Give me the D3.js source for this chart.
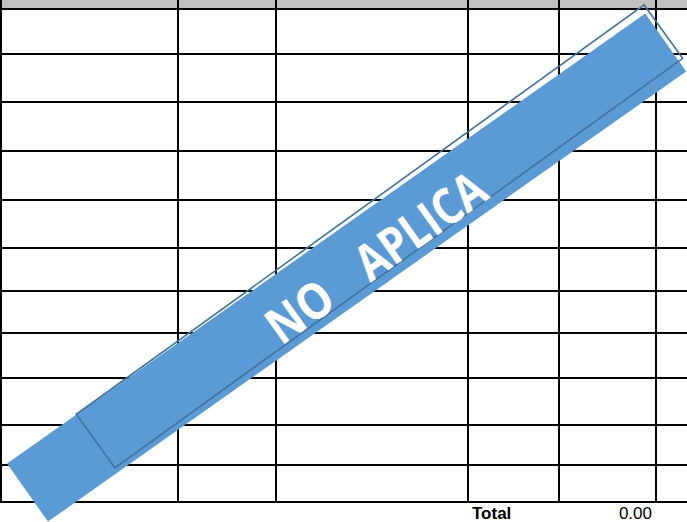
<!DOCTYPE html>
<html>
<head>
<meta charset="utf-8">
<script src="https://cdn.jsdelivr.net/npm/d3@7"></script>
<style>
  html, body { margin: 0; padding: 0; background: #fff; }
  svg { display: block; }
</style>
</head>
<body>
<div id="chart"></div>
<script>
// ---- data ----
const columns = ["", "", "", "", "", ""];
const rows = ["", "", "", "", "", "", "", "", "", "", ""];
const totalLabel = ["Total"];
const totalValue = [0.00];
const stampWords = ["NO", "APLICA"];

// ---- layout ----
const W = 687, H = 522;
const colEdges = [1, 178, 276, 468, 559, 656, 700];
const rowEdges = [9, 54, 102, 151, 200, 248, 291, 333, 378, 425, 465, 502];
const wordStart = [-2, 107];
const wordLen = [70, 148];

const svg = d3.select("#chart").append("svg").attr("width", W).attr("height", H);

// header band
svg.append("rect").attr("x", 0).attr("y", 0).attr("width", W).attr("height", rowEdges[0])
  .attr("fill", "#c0c0c0");

const x = d3.scaleOrdinal().domain(d3.range(colEdges.length)).range(colEdges);
const y = d3.scaleOrdinal().domain(d3.range(rowEdges.length)).range(rowEdges);

// horizontal lines
svg.append("g").selectAll("line").data(d3.range(rows.length + 1)).join("line")
  .attr("x1", 0).attr("x2", W)
  .attr("y1", i => y(i)).attr("y2", i => y(i))
  .attr("stroke", "#000").attr("stroke-width", 2);

// vertical lines
svg.append("g").selectAll("line").data(d3.range(columns.length)).join("line")
  .attr("x1", i => x(i)).attr("x2", i => x(i))
  .attr("y1", 0).attr("y2", y(rows.length))
  .attr("stroke", "#000").attr("stroke-width", 2);

// total row
svg.append("text").text(totalLabel[0])
  .attr("x", 472).attr("y", 519)
  .attr("font-family", "Liberation Sans, Arial, sans-serif")
  .attr("font-weight", "bold").attr("font-size", 17).attr("fill", "#000");
svg.append("text").text(d3.format(".2f")(totalValue[0]))
  .attr("x", 652).attr("y", 519).attr("text-anchor", "end")
  .attr("font-family", "Liberation Sans, Arial, sans-serif")
  .attr("font-size", 17).attr("fill", "#000");

// stamp banner
const fillG = svg.append("g").attr("transform", "translate(346.6,267.5) rotate(-35.2)");
fillG.append("rect").attr("x", -390.5).attr("y", -35.5).attr("width", 781).attr("height", 71)
  .attr("fill", "#5b9bd5");

const outG = svg.append("g").attr("transform", "translate(379.5,236.3) rotate(-35.8)");
outG.append("rect").attr("x", -350).attr("y", -33).attr("width", 700).attr("height", 66)
  .attr("fill", "none").attr("stroke", "#41719c").attr("stroke-width", 1.6);

svg.append("g").attr("transform", "translate(283,345) rotate(-35.4)")
  .selectAll("text").data(stampWords).join("text")
  .text(d => d)
  .attr("x", (d, i) => wordStart[i]).attr("y", 0)
  .attr("textLength", (d, i) => wordLen[i]).attr("lengthAdjust", "spacingAndGlyphs")
  .attr("font-family", "Open Sans, sans-serif").attr("font-weight", "bold")
  .attr("font-size", 50).attr("fill", "#fff");
</script>
</body>
</html>
